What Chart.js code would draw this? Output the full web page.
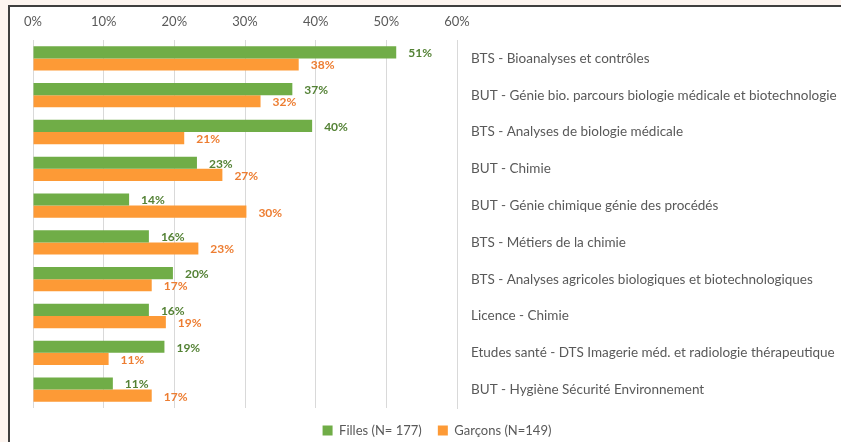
<!DOCTYPE html>
<html>
<head>
<meta charset="utf-8">
<script src="https://cdn.jsdelivr.net/npm/chart.js@4/dist/chart.umd.min.js"></script>
<style>
  html, body { margin: 0; padding: 0; background: #fdf5f0; overflow: hidden; }
  #frame {
    position: absolute; left: 8px; top: 5px;
    width: 840px; height: 445px;
    border-left: 2px solid #3f3f3f; border-top: 2px solid #3f3f3f;
    background: #ffffff;
  }
  #wrap { position: absolute; left: 0; top: 0; width: 831px; height: 435px; }
</style>
</head>
<body>
<div id="frame"><div id="wrap"><canvas id="chart"></canvas></div></div>
<script>
// Formations and share of pupils by gender
const categories = [
    "BTS - Bioanalyses et contrôles",
    "BUT - Génie bio. parcours biologie médicale et biotechnologie",
    "BTS - Analyses de biologie médicale",
    "BUT - Chimie",
    "BUT - Génie chimique génie des procédés",
    "BTS - Métiers de la chimie",
    "BTS - Analyses agricoles biologiques et biotechnologiques",
    "Licence - Chimie",
    "Etudes santé - DTS Imagerie méd. et radiologie thérapeutique",
    "BUT - Hygiène Sécurité Environnement"
];
const filles = [51.4, 36.7, 39.5, 23.2, 13.6, 16.4, 19.8, 16.4, 18.6, 11.3];
const garcons = [37.6, 32.2, 21.4, 26.8, 30.2, 23.4, 16.8, 18.8, 10.7, 16.8];
const xTicks = [0, 10, 20, 30, 40, 50, 60];

const greenBar = '#70ad47';
const orangeBar = '#fd9a36';
const greenText = '#548235';
const orangeText = '#ed7d31';
const textGrey = '#595959';
const fontFamily = 'Lato, "Liberation Sans", sans-serif';

// simple value labels drawn right of each bar
const barLabels = {
    id: 'barLabels',
    afterInit(chart) {
        // keep the legend band a fixed height so the plot ends where it should
        const legend = chart.legend;
        const fit = legend.fit;
        legend.fit = function () { fit.call(this); this.height = 34; };
    },
    afterDatasetsDraw(chart) {
        const ctx = chart.ctx;
        ctx.save();
        ctx.font = 'bold 12px ' + fontFamily;
        ctx.textAlign = 'left';
        ctx.textBaseline = 'middle';
        chart.data.datasets.forEach((ds, i) => {
            const meta = chart.getDatasetMeta(i);
            ctx.fillStyle = ds.labelColor;
            meta.data.forEach((bar, j) => {
                ctx.fillText(Math.round(ds.data[j]) + '%', bar.x + 12, bar.y + 1);
            });
        });
        ctx.restore();
    }
};

new Chart(document.getElementById('chart'), {
    type: 'bar',
    data: {
        labels: categories,
        datasets: [
            {
                label: 'Filles (N= 177)',
                data: filles,
                backgroundColor: greenBar,
                labelColor: greenText,
                categoryPercentage: 0.66,
                barPercentage: 1
            },
            {
                label: 'Garçons (N=149)',
                data: garcons,
                backgroundColor: orangeBar,
                labelColor: orangeText,
                categoryPercentage: 0.66,
                barPercentage: 1
            }
        ]
    },
    options: {
        indexAxis: 'y',
        responsive: true,
        maintainAspectRatio: false,
        animation: false,
        layout: { padding: { left: 23, top: 0, bottom: 0, right: 0 } },
        plugins: {
            tooltip: { enabled: false },
            legend: {
                position: 'bottom',
                labels: {
                    boxWidth: 10,
                    boxHeight: 10,
                    padding: 16,
                    color: textGrey,
                    font: { family: fontFamily, size: 13 }
                }
            }
        },
        scales: {
            x: {
                position: 'top',
                min: 0,
                max: 60,
                afterBuildTicks: (scale) => { scale.ticks = xTicks.map(v => ({ value: v })); },
                afterFit: (scale) => { scale.height = 33; },
                grid: { color: '#d9d9d9', drawTicks: false },
                border: { display: false },
                ticks: {
                    padding: 10,
                    color: textGrey,
                    font: { family: fontFamily, size: 13 },
                    callback: (v) => v + '%'
                }
            },
            y: {
                position: 'right',
                afterFit: (scale) => { scale.width = 384; },
                grid: { display: false, drawTicks: false },
                border: { display: true, color: '#d9d9d9' },
                ticks: {
                    padding: 14,
                    color: textGrey,
                    font: { family: fontFamily, size: 13.5 }
                }
            }
        }
    },
    plugins: [barLabels]
});
</script>
</body>
</html>
